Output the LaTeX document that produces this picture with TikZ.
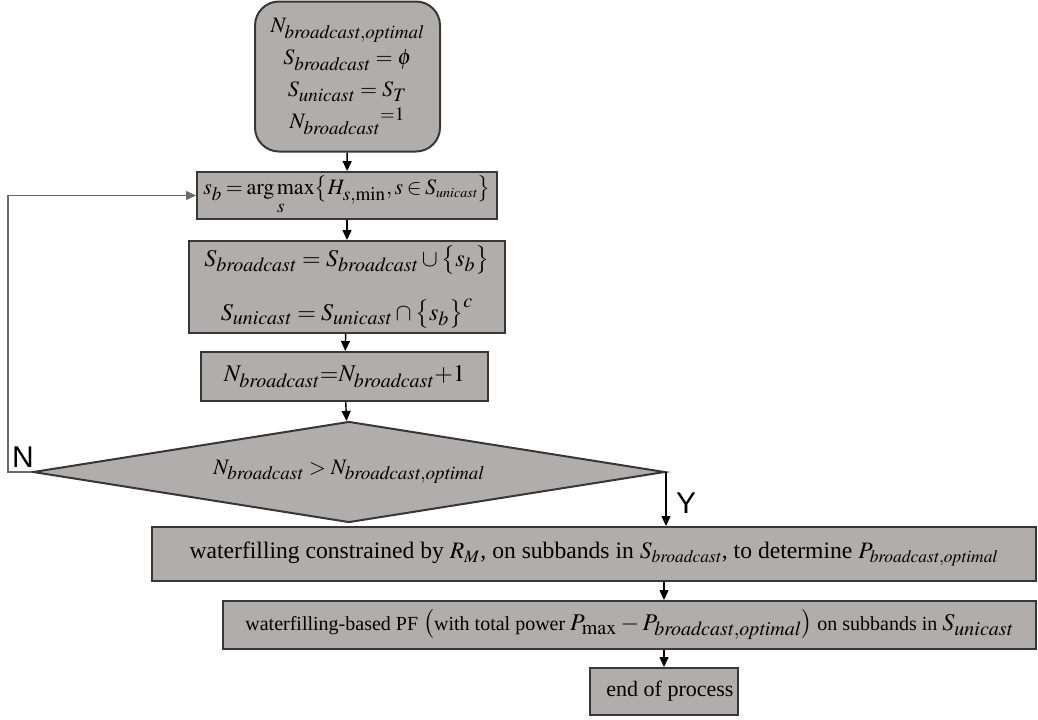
\documentclass[tikz,border=0pt]{standalone}
\usepackage{amsmath}
\usepackage{mathptmx}
\usepackage[no-math]{fontspec}
\setmainfont{Liberation Serif}
\newfontfamily\sinserif{Liberation Sans}
\usetikzlibrary{arrows.meta, calc, shapes.geometric}
\DeclareMathSizes{9}{9}{8}{6}
\DeclareMathSizes{10}{10}{8.5}{6.5}
\DeclareMathSizes{11}{11}{9.5}{7}
\DeclareMathSizes{12}{12}{10}{8}
\definecolor{relleno}{RGB}{177,173,173}
\definecolor{borde}{RGB}{55,55,55}
\definecolor{retorno}{RGB}{105,105,105}
\tikzset{
  caja/.style     = {draw=borde, fill=relleno, line width=1pt, inner sep=0pt, align=center},
  inicio/.style   = {caja, rounded corners=12pt},
  rombo/.style    = {caja, diamond, aspect=6.3},
  flecha/.style   = {-{Triangle[length=5pt,width=4.5pt]}, black, line width=0.7pt},
  etiqueta/.style = {font=\sinserif\fontsize{15}{15}\selectfont}
}

\begin{document}
\begin{tikzpicture}[x=0.5pt, y=-0.5pt]
  \useasboundingbox (0,0) rectangle (1038,719);

  \node[inicio, minimum width=92.5pt, minimum height=75pt, font=\fontsize{11}{16}\selectfont] (ini) at (347.5,76.5)
    {$N_{\mathit{broadcast,optimal}}$\\ $S_{\mathit{broadcast}}=\phi$\\ $S_{\mathit{unicast}}=S_T$\\ $N_{\mathit{broadcast}}{}^{=1}$};
  \node[caja, minimum width=150pt, minimum height=23.5pt, font=\fontsize{11}{14}\selectfont] (arg) at (347,195.5)
    {$\thickmuskip=3mu\medmuskip=2mu s_b=\mathop{\mathrm{arg\,max}}\limits_{s}\bigl\{H_{s,\min},s\in S_{\scriptscriptstyle\mathit{unicast}}\bigr\}$};
  \node[caja, minimum width=158pt, minimum height=46pt, font=\fontsize{12}{27}\selectfont] (act) at (347,287)
    {$S_{\mathit{broadcast}}=S_{\mathit{broadcast}}\cup\bigl\{s_b\bigr\}$\\ $S_{\mathit{unicast}}=S_{\mathit{unicast}}\cap\bigl\{s_b\bigr\}^c$};
  \node[caja, minimum width=143.5pt, minimum height=24.5pt, font=\fontsize{12}{14}\selectfont] (cnt) at (344.5,376.5)
    {$N_{\mathit{broadcast}}{=}N_{\mathit{broadcast}}{+}1$};
  \node[rombo, minimum width=316pt, minimum height=50.5pt, font=\fontsize{11}{13}\selectfont] (dec) at (349,472)
    {$N_{\mathit{broadcast}}>N_{\mathit{broadcast,optimal}}$};
  \node[caja, minimum width=442pt, minimum height=27pt, font=\fontsize{11.8}{13}\selectfont] (wf) at (594,554)
    {waterfilling constrained by $R_M$, on subbands in $S_{\mathit{broadcast}}$, to determine $P_{\mathit{broadcast,optimal}}$};
  \node[caja, minimum width=406.5pt, minimum height=24pt, font=\fontsize{10}{11}\selectfont] (pf) at (629.5,625)
    {waterfilling-based PF {\fontsize{12}{13}\selectfont$\bigl($}with total power {\fontsize{12}{13}\selectfont$P_{\max}-P_{\mathit{broadcast,optimal}}\bigr)$} on subbands in {\fontsize{12}{13}\selectfont$S_{\mathit{unicast}}$}};
  \node[caja, minimum width=74pt, minimum height=23.5pt, font=\fontsize{11}{13}\selectfont] (fin) at (664,691.5)
    {\hspace{6pt}end of process};

  \coordinate (vuelta) at (8,472);

  \draw[flecha] (ini) -- (arg);
  \draw[flecha] (arg) -- (act);
  \draw[flecha] (act) -- (cnt);
  \draw[flecha] (cnt) -- (dec);
  \draw[flecha, retorno] (dec.west) -- (vuelta) |- (arg.west);
  \draw[flecha] (dec.east) -- (dec.east |- wf.north);
  \draw[flecha] (wf.south -| fin.north) -- (pf.north -| fin.north);
  \draw[flecha] (pf.south -| fin.north) -- (fin.north);

  \node[etiqueta] (lblN) at (23,457) {N};
  \node[etiqueta] (lblY) at (686,503) {Y};
\end{tikzpicture}
\end{document}
